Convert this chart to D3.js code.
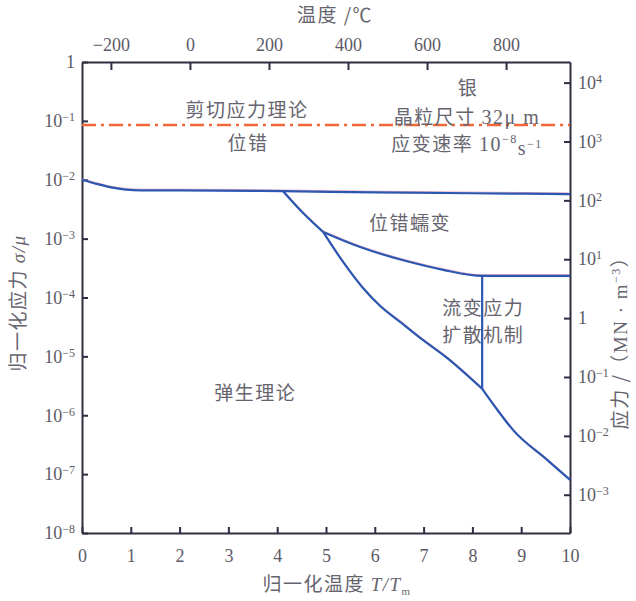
<!DOCTYPE html>
<html>
<head>
<meta charset="utf-8">
<script src="https://cdn.jsdelivr.net/npm/d3@7"></script>
<style>
  body { margin: 0; background: #fff; }
  .axis path, .axis line { stroke: #2e2e42; stroke-width: 2px; }
  .axis text { font-family: 'Liberation Serif', serif; font-size: 18px; fill: #5c5a66; }
  .cn { font-family: 'Noto Sans CJK SC', sans-serif; fill: #66646e; font-size: 19px; letter-spacing: 1.5px; }
  .serif { font-family: 'Liberation Serif', serif; }
  .boundary { fill: none; stroke: #2b56b2; stroke-width: 2.2px; }
  .fringe { fill: none; stroke: #e07a9a; stroke-width: 1px; opacity: 0.6; }
  .shear-line { fill: none; stroke: #f0673a; stroke-width: 2.5px; stroke-dasharray: 14, 5, 3, 5; }
</style>
</head>
<body>
<div id="chart"></div>
<script>
// axis ticks
const ttmTicks = [0, 1, 2, 3, 4, 5, 6, 7, 8, 9, 10];
const tempTicks = [-200, 0, 200, 400, 600, 800];
const normTicks = [1, 1e-1, 1e-2, 1e-3, 1e-4, 1e-5, 1e-6, 1e-7, 1e-8];
const stressTicks = [1e4, 1e3, 1e2, 1e1, 1, 1e-1, 1e-2, 1e-3];

// silver: melting point (C) and shear modulus (MN/m2)
const TM_C = 961.8;
const MU = Math.pow(10, 4.35);

// field boundaries, [T/Tm (x10), sigma/mu]
const shearLimit = 0.085;
const glideLimit = [[0, 0.0100], [0.3, 0.0085], [0.6, 0.0074], [0.9, 0.0068], [1.2, 0.0066],
  [2, 0.0066], [4.12, 0.0064], [6, 0.0061], [8, 0.0059], [10, 0.0057]];
const elasticCreep = [[4.12, 0.0064], [4.53, 0.00273], [4.94, 0.0013]];
const creepDiffusion = [[4.94, 0.0013], [5.7, 7.2e-4], [6.72, 4.0e-4], [7.4, 2.95e-4],
  [8.2, 2.33e-4], [10, 2.33e-4]];
const elasticDiffusionLow = [[4.94, 1.30e-3], [5.35, 4.02e-4], [5.74, 1.51e-4], [6.11, 7.19e-5],
  [6.52, 3.85e-5], [6.93, 2.06e-5], [7.48, 9.44e-6], [8.2, 2.81e-6]];
const elasticDiffusionHigh = [[8.2, 2.81e-6], [8.51, 1.24e-6], [8.83, 5.65e-7], [9.53, 1.75e-7],
  [10, 8.0e-8]];
const diffusionSplit = [[8.2, 2.33e-4], [8.2, 2.81e-6]];

// field labels: [T/Tm (x10), sigma/mu, text]
const fieldLabels = [
  [3.38, 0.153, '剪切应力理论'],
  [3.4, 0.0422, '位错'],
  [6.72, 0.00185, '位错蠕变'],
  [8.22, 6.66e-5, '流变应力'],
  [8.22, 2.32e-5, '扩散机制'],
  [3.55, 2.4e-6, '弹生理论'],
  [7.91, 0.362, '银']
];

const W = 636, H = 601;
const margin = { top: 62, right: 66, bottom: 68, left: 82 };

const svg = d3.select('#chart').append('svg').attr('width', W).attr('height', H);

const x = d3.scaleLinear().domain([0, 10]).range([margin.left, W - margin.right]);
const y = d3.scaleLog().domain([1e-8, 1]).range([H - margin.bottom, margin.top]);
const xTop = d3.scaleLinear().domain([-273.15, TM_C]).range([margin.left, W - margin.right]);
const yRight = d3.scaleLog().domain([1e-8 * MU, MU]).range([H - margin.bottom, margin.top]);

function powerLabel(sel, v) {
  const e = Math.round(Math.log10(v));
  sel.text(null);
  if (e === 0) { sel.text('1'); return; }
  sel.append('tspan').text('10');
  sel.append('tspan').attr('font-size', 12).attr('dy', '-0.5em')
    .text(e < 0 ? '\u2212' + (-e) : e);
}

// bottom
svg.append('g').attr('class', 'axis')
  .attr('transform', 'translate(0,' + (H - margin.bottom) + ')')
  .call(d3.axisBottom(x).tickValues(ttmTicks).tickSizeInner(-6).tickSizeOuter(0).tickPadding(16));

// top
svg.append('g').attr('class', 'axis')
  .attr('transform', 'translate(0,' + margin.top + ')')
  .call(d3.axisTop(xTop).tickValues(tempTicks).tickSizeInner(-8).tickSizeOuter(0).tickPadding(11)
    .tickFormat(d => d < 0 ? '\u2212' + (-d) : d));

// left
const gl = svg.append('g').attr('class', 'axis')
  .attr('transform', 'translate(' + margin.left + ',0)')
  .call(d3.axisLeft(y).tickValues(normTicks).tickSizeInner(-6).tickSizeOuter(0).tickPadding(7));
gl.selectAll('.tick text').each(function (d) { powerLabel(d3.select(this), d); });

// right
const gr = svg.append('g').attr('class', 'axis')
  .attr('transform', 'translate(' + (W - margin.right) + ',0)')
  .call(d3.axisRight(yRight).tickValues(stressTicks).tickSizeInner(-6).tickSizeOuter(0).tickPadding(8));
gr.selectAll('.tick text').each(function (d) { powerLabel(d3.select(this), d); });

// titles
svg.append('text').attr('class', 'cn').attr('x', 335).attr('y', 22)
  .attr('text-anchor', 'middle').text('温度 /℃');

const bt = svg.append('text').attr('class', 'cn').attr('x', 337).attr('y', 591)
  .attr('text-anchor', 'middle');
bt.append('tspan').text('归一化温度 ');
bt.append('tspan').attr('class', 'serif').attr('font-style', 'italic').text('T/T');
bt.append('tspan').attr('class', 'serif').attr('font-size', 11).attr('dy', 4).text('m');

const lt = svg.append('text').attr('class', 'cn')
  .attr('transform', 'translate(25,303) rotate(-90)').attr('text-anchor', 'middle');
lt.append('tspan').text('归一化应力 ');
lt.append('tspan').attr('class', 'serif').attr('font-style', 'italic').text('σ/μ');

const rt = svg.append('text').attr('class', 'cn')
  .attr('transform', 'translate(627,338) rotate(-90)').attr('text-anchor', 'middle');
rt.append('tspan').text('应力 /（');
rt.append('tspan').attr('class', 'serif').text('MN · m');
rt.append('tspan').attr('class', 'serif').attr('font-size', 12).attr('dy', -7).text('\u22123');
rt.append('tspan').attr('dy', 7).text('）');

// boundaries
const line = d3.line().x(d => x(d[0])).y(d => y(d[1])).curve(d3.curveMonotoneX);
const straight = d3.line().x(d => x(d[0])).y(d => y(d[1]));

svg.append('path').attr('class', 'shear-line')
  .attr('d', straight([[0, shearLimit], [10, shearLimit]]));

const curves = [glideLimit, elasticCreep, creepDiffusion, elasticDiffusionLow, elasticDiffusionHigh];
curves.forEach(c => {
  svg.append('path').attr('class', 'fringe').attr('transform', 'translate(0,-1.2)').attr('d', line(c));
});
curves.forEach(c => {
  svg.append('path').attr('class', 'boundary').attr('d', line(c));
});
svg.append('path').attr('class', 'boundary').attr('d', straight(diffusionSplit));

// field labels
function label(t, s, str) {
  return svg.append('text').attr('class', 'cn').attr('x', x(t)).attr('y', y(s))
    .attr('text-anchor', 'middle').attr('dy', '0.35em').text(str);
}
fieldLabels.forEach(d => label(d[0], d[1], d[2]));

const g1 = label(7.89, 0.1165, '晶粒尺寸 ');
g1.append('tspan').attr('class', 'serif').attr('font-size', 20).text('32μ m');

const g2 = label(7.89, 0.0405, '应变速率 ');
g2.append('tspan').attr('class', 'serif').attr('font-size', 20).text('10');
g2.append('tspan').attr('class', 'serif').attr('font-size', 12).attr('dy', '-0.6em').text('\u22128');
g2.append('tspan').attr('class', 'serif').attr('font-size', 20).attr('dy', '0.6em').text('s');
g2.append('tspan').attr('class', 'serif').attr('font-size', 12).attr('dy', '-0.6em').text('\u22121');
</script>
</body>
</html>
